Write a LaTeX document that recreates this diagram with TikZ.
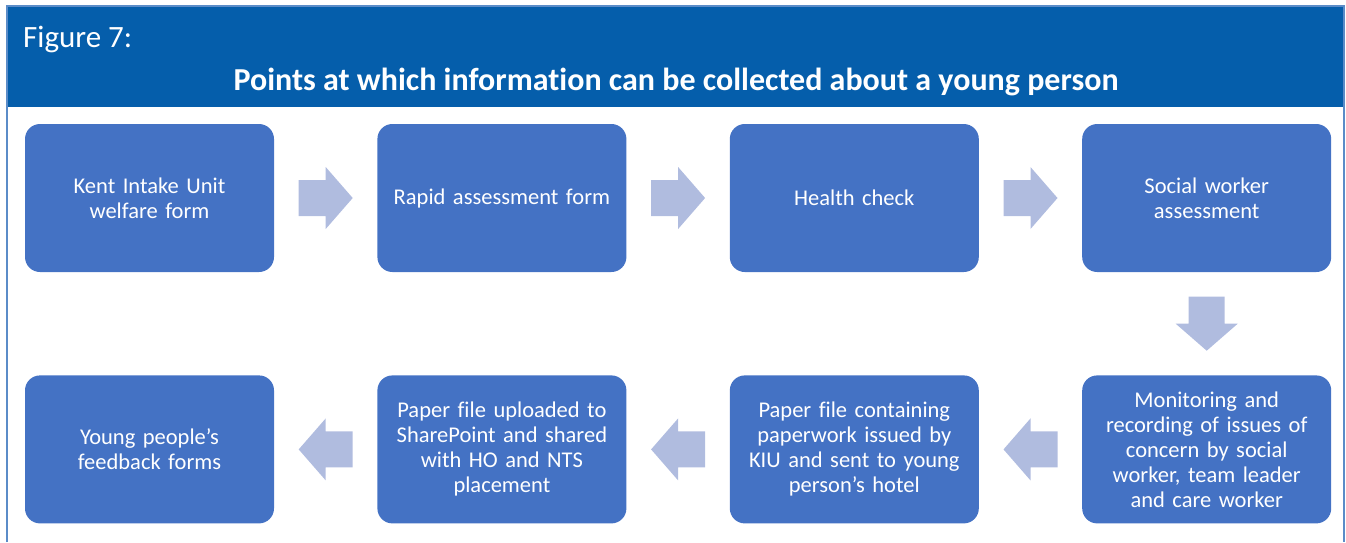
\documentclass[tikz,border=0pt]{standalone}
\usepackage{fontspec}
\setmainfont[Ligatures=CommonOff]{Carlito}
\usetikzlibrary{positioning,calc}

\tikzset{
	stepbox/.style={fill=boxblue,rounded corners=15pt,minimum width=249pt,minimum height=148pt,text width=240pt,align=center,text=white,font=\fontsize{22.5}{25}\selectfont},
	blockarrow/.pic={\fill[arrowblue] (-27,-18) -- (0,-18) -- (0,-31) -- (27,0) -- (0,31) -- (0,18) -- (-27,18) -- cycle;}
}

\begin{document}
\begin{tikzpicture}[x=1pt,y=-1pt]
		    \definecolor{headblue}{RGB}{5,94,171}
		    \definecolor{boxblue}{RGB}{68,114,196}
		    \definecolor{arrowblue}{RGB}{176,188,223}
		    \definecolor{frameblue}{RGB}{91,140,200}
		    \useasboundingbox (0,0) rectangle (1346,542);
		    % frame and header band
		    \fill[headblue] (7,6) rectangle (1345,107);
		    \draw[frameblue,line width=1.2pt] (7,542) -- (7,6) -- (1344,6) -- (1344,542);
		    \node(figure) [anchor=base west,inner sep=0pt,text=white,font=\fontsize{31}{36}\selectfont] at (23,47) {Figure 7:};
		    \node(title) [anchor=base,inner sep=0pt,text=white,font=\bfseries\fontsize{32}{38}\selectfont] at (676,90) {Points at which information can be collected about a young person};
		    
		    % top row
		    \node(kiu) [stepbox] at (149.5,198) {Kent Intake Unit\\welfare form};
		    \node[stepbox,right = 103pt of kiu] (rapid) {Rapid assessment form};
		    \node[stepbox,right = 103pt of rapid] (health) {Health check};
		    \node[stepbox,right = 103pt of health] (social) {Social worker\\assessment};
		    
		    % bottom row
		    \node[stepbox,below = 103pt of social] (monitor) {Monitoring and\\recording of issues of\\concern by social\\worker, team leader\\and care worker};
		    \node[stepbox,left = 103pt of monitor] (hotel) {Paper file containing\\paperwork issued by\\KIU and sent to young\\person’s hotel};
		    \node[stepbox,left = 103pt of hotel] (sharepoint) {Paper file uploaded to\\SharePoint and shared\\with HO and NTS\\placement};
		    \node[stepbox,left = 103pt of sharepoint] (feedback) {Young people’s\\feedback forms};
		    
		    \pic at ($(kiu.east)!0.5!(rapid.west)$) {blockarrow};
		    \pic at ($(rapid.east)!0.5!(health.west)$) {blockarrow};
		    \pic at ($(health.east)!0.5!(social.west)$) {blockarrow};
		    \pic[rotate=-90] at ($(social.south)!0.5!(monitor.north)$) {blockarrow};
		    \pic[rotate=180] at ($(monitor.west)!0.5!(hotel.east)$) {blockarrow};
		    \pic[rotate=180] at ($(hotel.west)!0.5!(sharepoint.east)$) {blockarrow};
		    \pic[rotate=180] at ($(sharepoint.west)!0.5!(feedback.east)$) {blockarrow};
\end{tikzpicture}
\end{document}
